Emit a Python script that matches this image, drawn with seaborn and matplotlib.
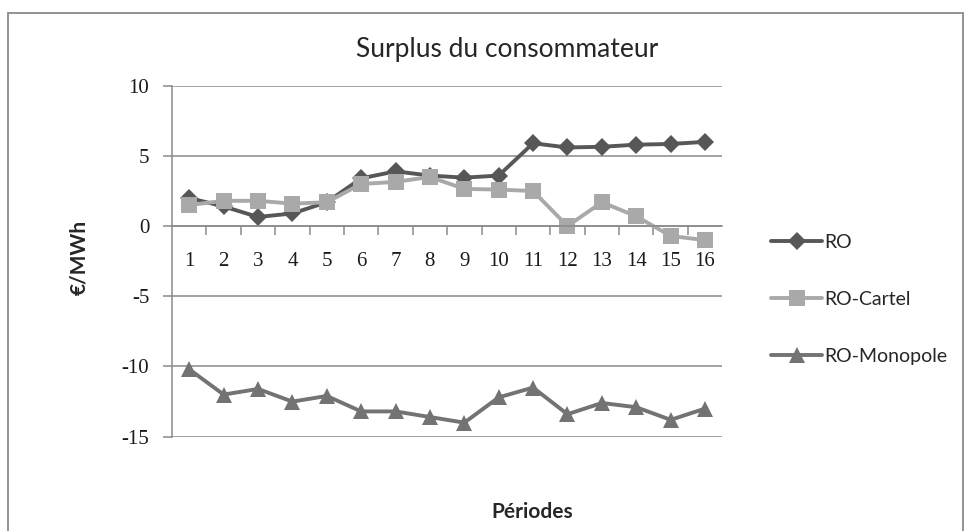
import numpy as np
import pandas as pd
import matplotlib
matplotlib.use("Agg")
import matplotlib.pyplot as plt
import seaborn as sns
from matplotlib.patches import Rectangle
from matplotlib.ticker import FixedLocator

# données
periodes = list(range(1, 17))
ro = [2.0, 1.4, 0.65, 0.9, 1.7, 3.4, 3.9, 3.6, 3.45, 3.6, 5.9, 5.6, 5.65, 5.8, 5.85, 6.0]
ro_cartel = [1.5, 1.8, 1.8, 1.6, 1.7, 3.0, 3.15, 3.5, 2.65, 2.6, 2.5, 0.0, 1.7, 0.7, -0.7, -1.0]
ro_monopole = [-10.2, -12.0, -11.6, -12.5, -12.1, -13.2, -13.2, -13.6, -14.0, -12.2, -11.5, -13.4, -12.6, -12.9, -13.8, -13.0]
series = ["RO", "RO-Cartel", "RO-Monopole"]
yticks = [-15, -10, -5, 0, 5, 10]

df = pd.DataFrame({"Période": periodes, "RO": ro, "RO-Cartel": ro_cartel, "RO-Monopole": ro_monopole})
long_df = df.melt(id_vars="Période", var_name="serie", value_name="valeur")

sns.set_style("white")
plt.rcParams["font.family"] = ["Lato", "DejaVu Sans"]
plt.rcParams["axes.unicode_minus"] = False

fig = plt.figure(figsize=(9.72, 5.31), dpi=100)
ax = fig.add_axes([0.177, 0.1776, 0.566, 0.661])

palette = {"RO": "#575757", "RO-Cartel": "#a9a9a9", "RO-Monopole": "#737373"}
markers = {"RO": "D", "RO-Cartel": "s", "RO-Monopole": "^"}
sizes = {"RO": 9, "RO-Cartel": 12, "RO-Monopole": 12}

for s in series:
    sub = long_df[long_df["serie"] == s]
    sns.lineplot(data=sub, x="Période", y="valeur", ax=ax, color=palette[s],
                 marker=markers[s], markersize=sizes[s], markeredgewidth=0,
                 linewidth=2.8, label=s)

ax.set_xlim(0.5, 16.5)
ax.set_ylim(-15, 10)
ax.set_yticks(yticks)
ax.set_xticks(periodes)
ax.xaxis.set_minor_locator(FixedLocator(np.arange(1.5, 16.5, 1)))

ax.grid(axis="y", color="#8a8a8a", linewidth=1.1)
ax.grid(axis="x", visible=False)
for side in ["top", "right"]:
    ax.spines[side].set_visible(False)
ax.spines["left"].set_color("#8a8a8a")
ax.spines["left"].set_linewidth(1.1)
ax.spines["bottom"].set_position(("data", 0))
ax.spines["bottom"].set_color("#8a8a8a")
ax.spines["bottom"].set_linewidth(1.1)

ax.tick_params(axis="y", which="major", left=True, length=6.5, width=1.1, color="#8a8a8a", pad=10)
ax.tick_params(axis="x", which="major", bottom=True, length=0, pad=19)
ax.tick_params(axis="x", which="minor", bottom=True, length=6.5, width=1.1, color="#8a8a8a")
ax.tick_params(axis="both", which="major", labelsize=15, labelcolor="#1a1a1a",
               labelfontfamily="Liberation Serif")
ax.set_xlabel("")
ax.set_ylabel("")

leg = ax.legend(loc="upper left", bbox_to_anchor=(1.075, 0.6), frameon=False,
                fontsize=14, labelspacing=2.05, handlelength=2.6, handletextpad=0.15,
                borderaxespad=0)

fig.text(0.522, 0.906, "Surplus du consommateur", ha="center", va="center", fontsize=19)
fig.text(0.548, 0.036, "Périodes", ha="center", va="center", fontsize=15, fontweight="bold")
fig.text(0.082, 0.516, "€/MWh", ha="center", va="center", rotation=90, fontsize=15, fontweight="bold")

fig.patches.append(Rectangle((8 / 972, -0.02), 955 / 972, 1 - 13 / 531 + 0.02,
                             transform=fig.transFigure, fill=False,
                             edgecolor="#8a8a8a", linewidth=1.3))

fig.savefig("out.png", dpi=100)
